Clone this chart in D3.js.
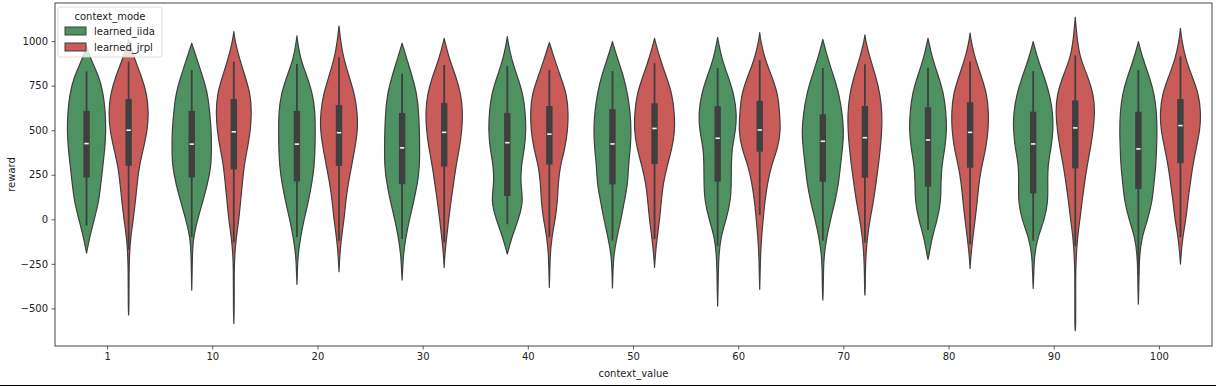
<!DOCTYPE html>
<html>
<head>
<meta charset="utf-8">
<style>
body { margin: 0; background: #fff; }
svg { display: block; font-family: "DejaVu Sans", sans-serif; }
</style>
</head>
<body>
<svg id="svg"></svg>
<script src="https://cdn.jsdelivr.net/npm/d3@7"></script>
<script>
// context values on the x axis and the two hue groups
var contextValues = [1, 10, 20, 30, 40, 50, 60, 70, 80, 90, 100];
var modes = ["learned_iida", "learned_jrpl"];
var modeColors = ["#4f9262", "#c95b59"];

var levels = [1000, 900, 800, 700, 600, 500, 400, 300, 200, 100, 0, -100, -200, -300, -400, -500, -600];

// relative density (violin half width) per context value, at each level
var iidaDensity = [
  [0, 0.2, 0.62, 0.83, 0.92, 0.95, 0.9, 0.8, 0.7, 0.6, 0.38, 0.15, 0, 0, 0, 0, 0],
  [0, 0.25, 0.54, 0.79, 0.88, 0.96, 0.97, 0.95, 0.78, 0.54, 0.29, 0.08, 0.03, 0.02, 0, 0, 0],
  [0.03, 0.17, 0.5, 0.78, 0.89, 0.9, 0.89, 0.85, 0.73, 0.56, 0.35, 0.18, 0.05, 0.02, 0, 0, 0],
  [0, 0.23, 0.5, 0.73, 0.81, 0.85, 0.86, 0.86, 0.75, 0.57, 0.36, 0.18, 0.06, 0.02, 0, 0, 0],
  [0.03, 0.2, 0.5, 0.78, 0.88, 0.92, 0.85, 0.68, 0.65, 0.79, 0.55, 0.22, 0, 0, 0, 0, 0],
  [0, 0.25, 0.55, 0.75, 0.87, 0.92, 0.88, 0.78, 0.75, 0.58, 0.42, 0.22, 0.06, 0.02, 0, 0, 0],
  [0.03, 0.2, 0.52, 0.8, 0.93, 0.89, 0.7, 0.67, 0.67, 0.63, 0.42, 0.15, 0.06, 0.03, 0.02, 0, 0],
  [0.02, 0.25, 0.54, 0.8, 0.94, 1.03, 0.97, 0.86, 0.77, 0.6, 0.38, 0.19, 0.06, 0.03, 0.02, 0, 0],
  [0.03, 0.22, 0.52, 0.78, 0.88, 0.92, 0.83, 0.67, 0.63, 0.63, 0.46, 0.2, 0.05, 0, 0, 0, 0],
  [0, 0.22, 0.54, 0.81, 0.96, 0.98, 0.88, 0.71, 0.71, 0.73, 0.56, 0.22, 0.06, 0.03, 0, 0, 0],
  [0, 0.22, 0.54, 0.79, 0.89, 0.92, 0.89, 0.86, 0.76, 0.68, 0.46, 0.17, 0.06, 0.03, 0.02, 0, 0]
];
var jrplDensity = [
  [0.02, 0.29, 0.64, 0.9, 0.98, 0.92, 0.73, 0.52, 0.42, 0.33, 0.23, 0.1, 0.04, 0.02, 0.02, 0.015, 0],
  [0.06, 0.28, 0.56, 0.82, 0.87, 0.82, 0.67, 0.5, 0.42, 0.33, 0.25, 0.12, 0.04, 0.02, 0.02, 0.02, 0],
  [0.08, 0.23, 0.5, 0.77, 0.9, 0.92, 0.78, 0.62, 0.45, 0.33, 0.25, 0.12, 0.04, 0, 0, 0, 0],
  [0.03, 0.25, 0.58, 0.83, 0.91, 0.87, 0.75, 0.58, 0.46, 0.33, 0.22, 0.12, 0.03, 0, 0, 0, 0],
  [0, 0.25, 0.55, 0.86, 0.93, 0.9, 0.77, 0.53, 0.43, 0.4, 0.29, 0.12, 0.04, 0.02, 0, 0, 0],
  [0.03, 0.27, 0.58, 0.87, 0.97, 1.0, 0.86, 0.62, 0.42, 0.33, 0.25, 0.13, 0.04, 0, 0, 0, 0],
  [0.05, 0.25, 0.6, 0.9, 0.97, 1.03, 0.89, 0.56, 0.38, 0.25, 0.17, 0.09, 0.04, 0.02, 0, 0, 0],
  [0.04, 0.26, 0.54, 0.75, 0.84, 0.83, 0.76, 0.66, 0.54, 0.42, 0.25, 0.12, 0.05, 0.02, 0.015, 0, 0],
  [0.05, 0.25, 0.56, 0.83, 0.91, 0.89, 0.78, 0.57, 0.43, 0.35, 0.25, 0.14, 0.04, 0, 0, 0, 0],
  [0.1, 0.25, 0.62, 0.9, 0.96, 0.88, 0.75, 0.58, 0.45, 0.33, 0.23, 0.11, 0.05, 0.02, 0.02, 0.02, 0.02],
  [0.07, 0.25, 0.58, 0.9, 1.0, 0.96, 0.77, 0.6, 0.48, 0.36, 0.27, 0.11, 0.03, 0, 0, 0, 0]
];

// violin extents [low tip, high tip]
var iidaExtent = [[-190, 970], [-397, 988], [-365, 1029], [-341, 988], [-195, 1025], [-385, 997],
                  [-487, 1021], [-453, 1010], [-225, 1016], [-388, 997], [-476, 997]];
var jrplExtent = [[-537, 1007], [-584, 1053], [-294, 1085], [-270, 1016], [-382, 992], [-270, 1016],
                  [-393, 1048], [-425, 1035], [-276, 1045], [-625, 1134], [-251, 1072]];

// inner box: [whisker low, q1, median, q3, whisker high]
var iidaBox = [[-35, 235, 425, 608, 830], [-100, 235, 422, 608, 838], [-100, 212, 422, 608, 872],
               [-110, 197, 401, 597, 819], [-28, 131, 430, 596, 860], [-120, 196, 423, 619, 832],
               [-150, 211, 455, 635, 849], [-120, 211, 438, 589, 849], [-60, 183, 445, 628, 849],
               [-120, 146, 423, 604, 832], [-310, 170, 395, 604, 838]];
var jrplBox = [[-170, 301, 500, 675, 885], [-130, 280, 491, 675, 885], [-120, 300, 486, 641, 910],
               [-130, 296, 488, 652, 866], [-100, 307, 478, 636, 838], [-110, 310, 510, 651, 876],
               [24, 380, 501, 665, 894], [-130, 234, 458, 636, 870], [-140, 290, 488, 657, 885],
               [-150, 286, 513, 667, 920], [-100, 315, 526, 675, 914]];

var yTicks = [-500, -250, 0, 250, 500, 750, 1000];

var W = 1216, H = 387;
var margin = {top: 3, right: 4, bottom: 41, left: 55};

var svg = d3.select("#svg").attr("width", W).attr("height", H);

var x = d3.scaleBand()
    .domain(contextValues)
    .range([margin.left, W - margin.right])
    .padding(0);

var y = d3.scaleLinear()
    .domain([-711, 1214])
    .range([H - margin.bottom, margin.top]);

var hue = d3.scaleBand().domain(modes).range([-0.4, 0.4]);
var halfMax = x.bandwidth() * 0.4 / 2 * 0.97;

// build violins
var violins = [];
contextValues.forEach(function(c, i) {
  [[iidaDensity, iidaExtent, iidaBox], [jrplDensity, jrplExtent, jrplBox]].forEach(function(g, m) {
    var ext = g[1][i];
    var pts = [[ext[0], 0]];
    levels.slice().reverse().forEach(function(lv, k) {
      var d = g[0][i][levels.length - 1 - k];
      if (lv > ext[0] && lv < ext[1]) pts.push([lv, d]);
    });
    pts.push([ext[1], 0]);
    var cx = x(c) + x.bandwidth() / 2 + (hue(modes[m]) + hue.bandwidth() / 2) * x.bandwidth();
    violins.push({c: c, mode: m, cx: cx, pts: pts, box: g[2][i]});
  });
});

var area = d3.area()
    .curve(d3.curveBasis)
    .y(function(d) { return y(d[0]); })
    .x0(function(d) { return this_cx - d[1] * halfMax; })
    .x1(function(d) { return this_cx + d[1] * halfMax; });
var this_cx = 0;

var gV = svg.append("g");
violins.forEach(function(v) {
  this_cx = v.cx;
  gV.append("path")
    .attr("d", area(v.pts))
    .attr("fill", modeColors[v.mode])
    .attr("stroke", "#3f3f3f")
    .attr("stroke-width", 1.2)
    .attr("stroke-linejoin", "round");
  // whiskers
  gV.append("line")
    .attr("x1", v.cx).attr("x2", v.cx)
    .attr("y1", y(v.box[0])).attr("y2", y(v.box[4]))
    .attr("stroke", "#3f3f3f").attr("stroke-width", 1.8);
  // box
  gV.append("rect")
    .attr("x", v.cx - 3.2).attr("width", 6.4)
    .attr("y", y(v.box[3])).attr("height", y(v.box[1]) - y(v.box[3]))
    .attr("fill", "#3f3f3f");
  // median
  gV.append("rect")
    .attr("x", v.cx - 2.2).attr("width", 4.4)
    .attr("y", y(v.box[2]) - 0.8).attr("height", 1.6)
    .attr("fill", "#f2f2f2");
});

// axes
var xAxis = d3.axisBottom(x).tickSizeOuter(0).tickSize(3.5).tickPadding(3.5);
var yAxis = d3.axisLeft(y).tickValues(yTicks).tickSizeOuter(0).tickSize(3.5).tickPadding(3.5)
    .tickFormat(function(d) { return d < 0 ? "\u2212" + Math.abs(d) : d; });

var gx = svg.append("g")
    .attr("transform", "translate(0," + (H - margin.bottom) + ")")
    .call(xAxis);
var gy = svg.append("g")
    .attr("transform", "translate(" + margin.left + ",0)")
    .call(yAxis);
[gx, gy].forEach(function(g) {
  g.select(".domain").remove();
  g.selectAll(".tick line").attr("stroke", "#333").attr("stroke-width", 0.8);
  g.selectAll(".tick text").attr("fill", "#222").attr("font-size", 10)
    .attr("font-family", "DejaVu Sans");
});

// frame
svg.append("rect")
  .attr("x", margin.left).attr("y", margin.top)
  .attr("width", W - margin.right - margin.left)
  .attr("height", H - margin.bottom - margin.top)
  .attr("fill", "none").attr("stroke", "#333").attr("stroke-width", 0.9);

svg.append("text")
  .attr("x", (margin.left + W - margin.right) / 2).attr("y", 377)
  .attr("text-anchor", "middle").attr("font-size", 10).attr("fill", "#222")
  .text("context_value");
svg.append("text")
  .attr("transform", "translate(15," + ((margin.top + H - margin.bottom) / 2) + ") rotate(-90)")
  .attr("text-anchor", "middle").attr("font-size", 10).attr("fill", "#222")
  .text("reward");

// legend
var lg = svg.append("g").attr("transform", "translate(58,7)");
lg.append("rect")
  .attr("width", 104).attr("height", 50).attr("rx", 2.5)
  .attr("fill", "#fff").attr("fill-opacity", 0.8)
  .attr("stroke", "#d6d6d6").attr("stroke-width", 0.8);
lg.append("text").attr("x", 52).attr("y", 13).attr("text-anchor", "middle")
  .attr("font-size", 10).attr("fill", "#222").text("context_mode");
modes.forEach(function(m, i) {
  lg.append("rect")
    .attr("x", 7).attr("y", 20 + i * 16).attr("width", 21).attr("height", 8)
    .attr("fill", modeColors[i]).attr("stroke", "#3f3f3f").attr("stroke-width", 1);
  lg.append("text").attr("x", 36).attr("y", 28 + i * 16)
    .attr("font-size", 10).attr("fill", "#222").text(m);
});

// bottom border line of the picture
svg.append("line")
  .attr("x1", 0).attr("x2", W).attr("y1", 385.5).attr("y2", 385.5)
  .attr("stroke", "#000").attr("stroke-width", 1);
</script>
</body>
</html>
